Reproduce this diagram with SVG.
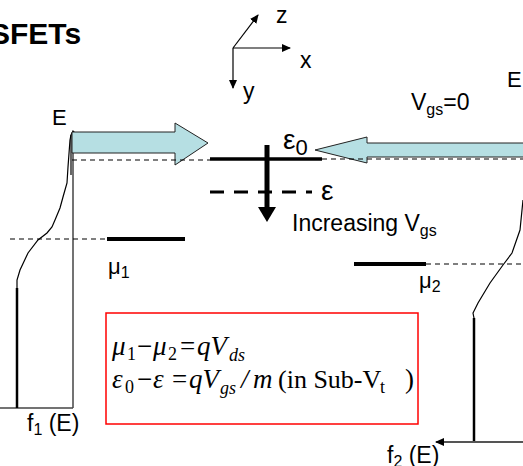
<svg xmlns="http://www.w3.org/2000/svg" width="523" height="466" viewBox="0 0 523 466">
<defs>
<marker id="ah" markerWidth="9" markerHeight="8" refX="8" refY="4" orient="auto" markerUnits="userSpaceOnUse"><path d="M0,0 L9,4 L0,8 z" fill="#000"/></marker>
</defs>
<style>
.sans{font-family:"Liberation Sans",Arial,sans-serif;fill:#000}
.tm{font-family:"Liberation Serif","Times New Roman",serif;fill:#000}
.it{font-style:italic}
.thin{stroke:#000;stroke-width:1.2;fill:none}
.dash{stroke:#000;stroke-width:1.1;stroke-dasharray:5,4;fill:none}
.axisg{stroke:#444;stroke-width:1.5;fill:none}
.barrow{fill:#B6DFE3;stroke:#222;stroke-width:1}
</style>
<rect width="523" height="466" fill="#fff"/>
<g id="title"><text x="-10" y="44" class="sans" font-size="30" font-weight="bold">SFETs</text></g>
<g id="axes">
<line x1="233" y1="48" x2="290" y2="48" class="thin" marker-end="url(#ah)"/>
<line x1="233" y1="48" x2="258" y2="15" class="thin" marker-end="url(#ah)"/>
<line x1="233" y1="48" x2="233" y2="88" class="thin" marker-end="url(#ah)"/>
<text x="276" y="23" class="sans" font-size="23">z</text>
<text x="300" y="68" class="sans" font-size="23">x</text>
<text x="243" y="99" class="sans" font-size="23">y</text>
</g>
<g id="left-contact">
<line x1="73" y1="132" x2="73" y2="408" class="axisg"/>
<line x1="0" y1="408" x2="73" y2="408" class="axisg"/>
<line x1="17" y1="288" x2="17" y2="408" stroke="#000" stroke-width="2.5"/>
<path d="M17,288 L17,280 L20,270 L28,253 L38,240 L47,233 L52,227 L55,220 L60,208 L63,197 L67,183 L68,167 L70,140 L71,135 L73,131 L75,133" class="thin"/>
<line x1="71" y1="135" x2="71" y2="175" class="thin"/>
<text x="52" y="125" class="sans" font-size="22">E</text>
<text x="27" y="431" class="sans" font-size="23">f<tspan font-size="16" dy="4">1</tspan><tspan dy="-4"> (E)</tspan></text>
</g>
<g id="right-contact">
<line x1="474" y1="318" x2="474" y2="442" stroke="#000" stroke-width="2.5"/>
<line x1="523" y1="442" x2="436" y2="442" stroke="#555" stroke-width="2" marker-end="url(#ah)"/>
<path d="M523,200 L520,230 L512,253 L503,265 L490,283 L478,303 L473,313 L474,318" class="thin"/>
<text x="507" y="87" class="sans" font-size="22">E</text>
<text x="387" y="463" class="sans" font-size="23">f<tspan font-size="16" dy="4">2</tspan><tspan dy="-4"> (E)</tspan></text>
</g>
<g id="connectors">
<polygon points="72,132 175,132 175,123 208,143 175,165 175,153 72,153" class="barrow"/>
<polygon points="530,143 367,143 367,137 315,150 367,163 367,157 530,157" class="barrow"/>
<line x1="72" y1="160" x2="210" y2="160" class="dash"/>
<line x1="322" y1="159" x2="523" y2="159" class="dash"/>
<line x1="10" y1="239" x2="107" y2="239" class="dash"/>
<line x1="426" y1="264" x2="523" y2="264" class="dash"/>
</g>
<g id="channel">
<line x1="210" y1="159" x2="322" y2="159" stroke="#000" stroke-width="3.5"/>
<line x1="210" y1="192" x2="312" y2="192" stroke="#000" stroke-width="3" stroke-dasharray="14,10"/>
<line x1="267" y1="145" x2="267" y2="208" stroke="#000" stroke-width="5"/>
<polygon points="258,207 276,207 267,222" fill="#000"/>
<text x="283" y="149" class="sans" font-size="28">ε<tspan font-size="22" dy="6">0</tspan></text>
<text x="321" y="200" class="sans" font-size="28">ε</text>
<text x="292" y="231" class="sans" font-size="23">Increasing V<tspan font-size="16" dy="5">gs</tspan></text>
<text x="411" y="110" class="sans" font-size="23">V<tspan font-size="16" dy="5">gs</tspan><tspan dy="-5">=0</tspan></text>
</g>
<g id="mu1">
<line x1="107" y1="239" x2="185" y2="239" stroke="#000" stroke-width="4"/>
<text x="108" y="274" class="sans" font-size="22">μ<tspan font-size="16" dy="4">1</tspan></text>
</g>
<g id="mu2">
<line x1="354" y1="264" x2="426" y2="264" stroke="#000" stroke-width="4"/>
<text x="419" y="288" class="sans" font-size="22">μ<tspan font-size="16" dy="4">2</tspan></text>
</g>
<g id="equations">
<rect x="106" y="313" width="312" height="111" fill="none" stroke="#f00" stroke-width="1.5"/>
<text y="355" class="tm" font-size="27"><tspan x="112" class="it">μ</tspan><tspan x="127" font-size="18" dy="5">1</tspan><tspan x="137" dy="-5">−</tspan><tspan x="153" class="it">μ</tspan><tspan x="168" font-size="18" dy="5">2</tspan><tspan x="180" dy="-5">=</tspan><tspan x="197" class="it">qV</tspan><tspan x="229" class="it" font-size="18" dy="6">ds</tspan></text>
<text y="388" class="tm" font-size="27"><tspan x="112" class="it">ε</tspan><tspan x="125" font-size="18" dy="5">0</tspan><tspan x="137" dy="-5">−</tspan><tspan x="153" class="it">ε</tspan><tspan x="172">=</tspan><tspan x="189" class="it">qV</tspan><tspan x="220" class="it" font-size="18" dy="6">gs</tspan><tspan x="241" class="it" dy="-6">/</tspan><tspan x="253" class="it">m</tspan><tspan x="278" font-size="26">(in Sub-V</tspan><tspan x="380" font-size="18" dy="5">t</tspan><tspan x="405" dy="-5">)</tspan></text>
</g>
</svg>
